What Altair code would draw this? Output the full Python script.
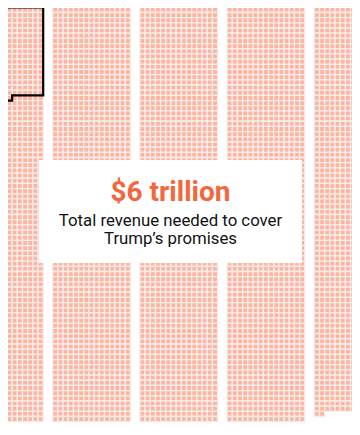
import altair as alt
import pandas as pd

# ---- data ----
block_counts = [1200, 1200, 1200, 1200, 1172]   # squares per block (each square ≈ $1 billion)
block_cols = 15                                   # squares per row in a block
outlined_count = 264                              # squares inside the black outline
headline = ["$6 trillion"]
sub_lines = ["Total revenue needed to cover", "Trump\u2019s promises"]

# ---- layout constants ----
PITCH = 5.18          # px per cell
GAP_CELLS = 9.5 / PITCH
ORIGIN_X = -34.5      # px position of first cell (screen coords)
ORIGIN_Y = 7.3
W, H = 344, 419
MARGIN = 8

rows = []
for b, n in enumerate(block_counts):
    for i in range(n):
        r, c = divmod(i, block_cols)
        x = b * (block_cols + GAP_CELLS) + c
        rows.append({"x": x, "x2": x + 1, "y": r, "y2": r + 1})
cells = pd.DataFrame(rows)

full_rows, rem = divmod(outlined_count, block_cols)
outline = pd.DataFrame({
    "x": [0, block_cols, block_cols, rem, rem, 0, 0],
    "y": [0, 0, full_rows, full_rows, full_rows + 1, full_rows + 1, 0],
    "o": list(range(7)),
})

x_dom = [(MARGIN - ORIGIN_X) / PITCH, (MARGIN + W - ORIGIN_X) / PITCH]
y_dom = [(MARGIN - ORIGIN_Y) / PITCH, (MARGIN + H - ORIGIN_Y) / PITCH]
xs = alt.Scale(domain=x_dom, nice=False, zero=False)
ys = alt.Scale(domain=y_dom, nice=False, zero=False, reverse=True)

grid = alt.Chart(cells).mark_rect(
    fill="#FFB4A0", stroke="#F3EDEC", strokeWidth=1.3, clip=True
).encode(
    x=alt.X("x:Q", scale=xs, axis=None),
    x2="x2:Q",
    y=alt.Y("y:Q", scale=ys, axis=None),
    y2="y2:Q",
)

line = alt.Chart(outline).mark_line(
    color="#000000", strokeWidth=2.2, clip=True, strokeJoin="miter"
).encode(
    x=alt.X("x:Q", scale=xs, axis=None),
    y=alt.Y("y:Q", scale=ys, axis=None),
    order="o:Q",
)

one = pd.DataFrame({"k": [0]})
box = alt.Chart(one).mark_rect(color="#FFFFFF").encode(
    x=alt.value(31), x2=alt.value(294), y=alt.value(152), y2=alt.value(255)
)

head = alt.Chart(pd.DataFrame({"t": headline})).mark_text(
    font="Roboto", fontSize=28, fontWeight="bold", color="#F4663C",
    align="center", baseline="alphabetic"
).encode(x=alt.value(162.5), y=alt.value(192.5), text="t:N")

sub = alt.Chart(pd.DataFrame({"t": sub_lines, "i": [0, 1]})).mark_text(
    font="Roboto", fontSize=16.8, color="#121212",
    align="center", baseline="alphabetic"
).encode(
    x=alt.value(162.5),
    y=alt.Y("i:Q", scale=alt.Scale(domain=[0, 1], range=[218, 236.3]), axis=None),
    text="t:N",
)

chart = alt.layer(grid, line, box, head, sub).properties(
    width=W, height=H, padding=0,
    autosize=alt.AutoSizeParams(type="none"),
).resolve_scale(y="independent").configure_view(strokeWidth=0)

chart.save("out.html", embed_options={"renderer": "svg", "actions": False})
